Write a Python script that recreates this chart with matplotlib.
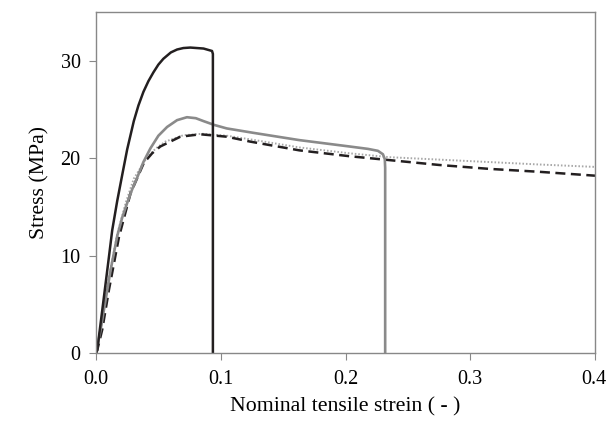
import matplotlib
matplotlib.use("Agg")
import matplotlib.pyplot as plt

# stress-strain curves
strain_a = [0.0, 0.001, 0.0064, 0.0104, 0.013, 0.017, 0.0215, 0.025, 0.0303, 0.034, 0.038, 0.042, 0.046, 0.050,
            0.054, 0.060, 0.065, 0.070, 0.0756, 0.0862, 0.093, 0.0937, 0.0937]
stress_a = [0.0, 0.3, 5.8, 9.9, 12.6, 15.6, 18.6, 20.9, 23.8, 25.4, 26.8, 27.9, 28.8, 29.6,
            30.2, 30.85, 31.15, 31.3, 31.35, 31.25, 31.0, 30.7, 0.0]

strain_b = [0.0, 0.0037, 0.0117, 0.017, 0.021, 0.025, 0.029, 0.033, 0.038, 0.0436, 0.050, 0.057, 0.065, 0.0729,
            0.080, 0.0862, 0.095, 0.1048, 0.126, 0.163, 0.203, 0.218, 0.226, 0.230, 0.2315, 0.2318, 0.2318]
stress_b = [0.0, 2.4, 8.5, 12.0, 13.9, 15.4, 16.8, 18.0, 19.6, 21.0, 22.3, 23.2, 23.9, 24.2,
            24.1, 23.8, 23.4, 23.05, 22.6, 21.85, 21.2, 20.95, 20.75, 20.4, 19.9, 19.0, 0.0]

strain_c = [0.0, 0.001, 0.005, 0.0104, 0.0184, 0.0277, 0.0383, 0.045, 0.0516, 0.0676, 0.0836, 0.1048, 0.1235,
            0.163, 0.203, 0.235, 0.275, 0.315, 0.355, 0.4]
stress_c = [0.0, 0.3, 2.4, 6.5, 11.9, 16.4, 19.5, 20.5, 21.2, 22.2, 22.45, 22.2, 21.7,
            20.8, 20.2, 19.8, 19.3, 18.9, 18.6, 18.2]

strain_d = [0.0, 0.003, 0.010, 0.017, 0.024, 0.0303, 0.041, 0.048, 0.0556, 0.070, 0.085, 0.105, 0.125, 0.163,
            0.203, 0.235, 0.275, 0.315, 0.355, 0.4]
stress_d = [0.0, 1.8, 7.5, 12.2, 15.5, 17.9, 20.1, 21.0, 21.7, 22.35, 22.5, 22.3, 21.9, 21.1,
            20.5, 20.1, 19.85, 19.6, 19.35, 19.1]

plt.rcParams['font.family'] = ['Liberation Serif', 'DejaVu Serif']

fig = plt.figure(figsize=(6.07, 4.21), dpi=100)
ax = fig.add_axes([96/607, 68/421, 499/607, 341/421])

ax.plot(strain_d, stress_d, color='#a8a8a8', lw=1.4, ls=(0, (0.8, 1.0)))
ax.plot(strain_c, stress_c, color='#231f20', lw=1.8, ls=(0, (4, 2.2)))
ax.plot(strain_b, stress_b, color='#8a8a8a', lw=1.9)
ax.plot(strain_a, stress_a, color='#231f20', lw=1.8)

ax.set_xlim(0, 0.4)
ax.set_ylim(0, 35)
ax.set_xticks([0.0, 0.1, 0.2, 0.3, 0.4])
ax.set_xticklabels(['0.0', '0.1', '0.2', '0.3', '0.4'])
ax.set_yticks([0, 10, 20, 30])
ax.tick_params(direction='out', length=5, color='#888888', labelsize=14.5)
ax.tick_params(axis='x', pad=7)
ax.tick_params(axis='y', pad=6)
for s in ax.spines.values():
    s.set_color('#888888')
    s.set_linewidth(1.0)
ax.set_xlabel('Nominal tensile strein ( - )', fontsize=15.7, labelpad=6)
ax.set_ylabel('Stress (MPa)', fontsize=15.7, labelpad=8)

# keep the last tick label inside the figure
ax.get_xticklabels()[-1].set_horizontalalignment('right')
ax.get_xticklabels()[-1].set_x(0.4)
import matplotlib.transforms as mtransforms
lbl = ax.get_xticklabels()[-1]
lbl.set_transform(lbl.get_transform() + mtransforms.ScaledTranslation(12/100, 0, fig.dpi_scale_trans))

fig.savefig('out.png', dpi=100)
